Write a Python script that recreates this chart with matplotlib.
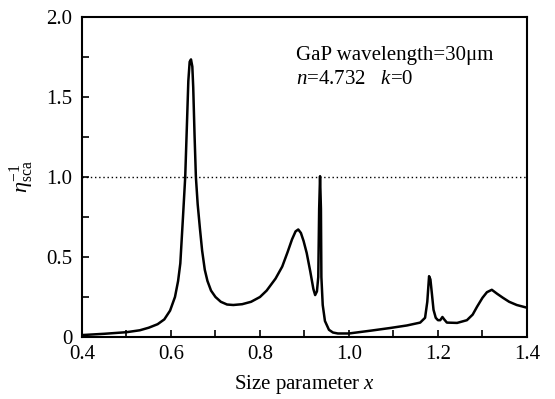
import matplotlib
matplotlib.use("Agg")
import matplotlib.pyplot as plt
from matplotlib.ticker import MultipleLocator

plt.rcParams['font.family'] = ['Liberation Serif', 'DejaVu Serif']
plt.rcParams['mathtext.fontset'] = 'custom'
plt.rcParams['mathtext.rm'] = 'Liberation Serif'
plt.rcParams['mathtext.it'] = 'Liberation Serif:italic'

# courbe
taille_x = [0.400, 0.450, 0.500, 0.530, 0.550, 0.570, 0.585, 0.598, 0.609, 0.616,
            0.621, 0.627, 0.632, 0.636, 0.639, 0.642, 0.645, 0.648, 0.650, 0.653,
            0.656, 0.660, 0.665, 0.670, 0.676, 0.682, 0.690, 0.700, 0.712, 0.726,
            0.740, 0.760, 0.780, 0.800, 0.815, 0.835, 0.850, 0.862, 0.872, 0.880,
            0.886, 0.892, 0.898, 0.905, 0.913, 0.920, 0.924, 0.928, 0.931, 0.933,
            0.935, 0.937, 0.938, 0.941, 0.946, 0.955, 0.964, 0.975, 1.000, 1.050,
            1.092, 1.130, 1.160, 1.171, 1.176, 1.180, 1.183, 1.186, 1.190, 1.195,
            1.200, 1.205, 1.210, 1.214, 1.220, 1.243, 1.265, 1.278, 1.288, 1.300,
            1.310, 1.321, 1.333, 1.346, 1.360, 1.377, 1.400]
eta_sca = [0.012, 0.020, 0.030, 0.042, 0.058, 0.080, 0.110, 0.165, 0.250, 0.350,
           0.460, 0.750, 1.000, 1.340, 1.600, 1.720, 1.735, 1.690, 1.560, 1.260,
           1.000, 0.830, 0.680, 0.540, 0.420, 0.350, 0.290, 0.250, 0.220, 0.203,
           0.200, 0.205, 0.220, 0.250, 0.290, 0.365, 0.440, 0.530, 0.610, 0.660,
           0.672, 0.650, 0.600, 0.525, 0.410, 0.300, 0.262, 0.285, 0.375, 0.800,
           1.005, 0.800, 0.375, 0.200, 0.100, 0.045, 0.028, 0.022, 0.022, 0.040,
           0.056, 0.072, 0.090, 0.120, 0.220, 0.380, 0.360, 0.280, 0.170, 0.120,
           0.105, 0.105, 0.125, 0.110, 0.090, 0.088, 0.105, 0.140, 0.190, 0.245,
           0.280, 0.295, 0.270, 0.245, 0.220, 0.200, 0.183]

xticks = [0.4, 0.6, 0.8, 1.0, 1.2, 1.4]
yticks = [0, 0.5, 1.0, 1.5, 2.0]
ytick_labels = ["0", "0.5", "1.0", "1.5", "2.0"]

fig = plt.figure(figsize=(5.55, 3.99), dpi=100)
ax = fig.add_axes([0.1477, 0.1554, 0.8018, 0.802])

ax.plot(taille_x, eta_sca, color="black", lw=1.8, solid_joinstyle="round")
ax.axhline(1.0, color="black", lw=1.0, linestyle=(0, (1, 2)))

ax.set_xlim(0.4, 1.4)
ax.set_ylim(0, 2.0)
ax.set_xticks(xticks)
ax.set_xticklabels([f"{v:.1f}" for v in xticks])
ax.set_yticks(yticks)
ax.set_yticklabels(ytick_labels)
ax.xaxis.set_minor_locator(MultipleLocator(0.1))
ax.yaxis.set_minor_locator(MultipleLocator(0.25))
ax.tick_params(which="both", direction="in", length=5, width=1.2,
               top=False, right=False, labelsize=15)
ax.tick_params(axis="x", pad=6)
ax.tick_params(axis="y", pad=7)
for s in ax.spines.values():
    s.set_linewidth(1.5)

ax.set_xlabel("Size parameter $x$", fontsize=15, labelpad=6)
ax.set_ylabel(r"$\eta_{\rm sca}^{-1}$", fontsize=16, labelpad=7)

ax.text(0.881, 1.73, "GaP wavelength=30μm", fontsize=15)
ax.text(0.881, 1.58, r"$n$=4.732   $k$=0", fontsize=15)

plt.savefig("out.png", dpi=100)
